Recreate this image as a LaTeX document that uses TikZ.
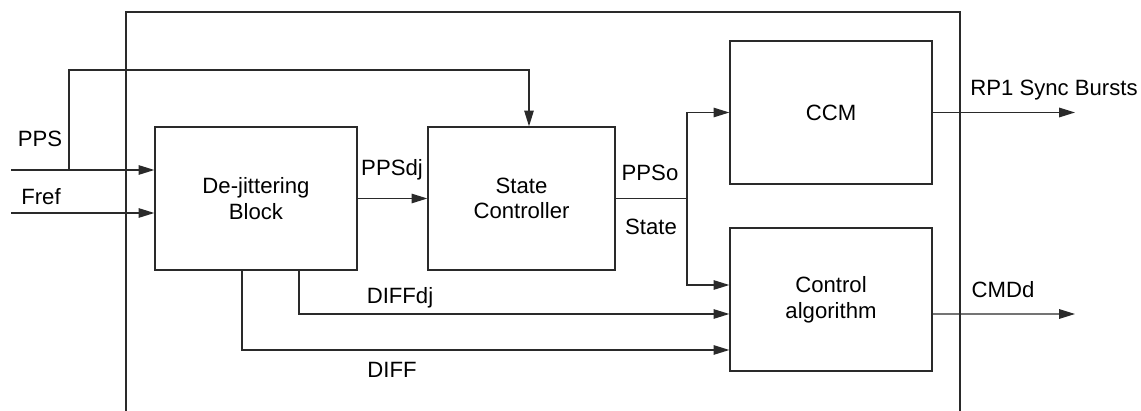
\documentclass[tikz,border=0pt]{standalone}
\usepackage{fontspec}
\setmainfont{Liberation Sans}
\usepackage{tikz}
\usepackage{xcolor}
\usetikzlibrary{arrows.meta,positioning,calc}
\definecolor{wire}{HTML}{2A2A2A}
\tikzset{
  blockbox/.style={
    draw=wire, line width=0.75pt, rectangle,
    minimum width=4.04cm, minimum height=2.86cm,
    align=center, inner sep=2pt
  },
  sigline/.style={draw=wire, line width=0.75pt},
  sigarrow/.style={sigline, -{Triangle[length=9pt,width=5.4pt]}},
  siglabel/.style={inner sep=0pt}
}

\begin{document}
\begin{tikzpicture}[x=0.02cm,y=-0.02cm,font=\fontsize{12.6}{14.6}\selectfont]
  \useasboundingbox (0,0) rectangle (1141,411);
  % outer frame (open at the bottom)
  \draw[sigline] (126,411) -- (126,12) -- (960,12) -- (960,411);

  % blocks
  \node[blockbox] (dj) at (256,198.5) {De-jittering\\Block};
  \node[blockbox,minimum width=3.74cm] (sc) at (521.5,198.5) {State\\Controller};
  \node[blockbox] (ccm) at (831,112.5) {CCM};
  \node[blockbox] (ca) at (831,299.5) {Control\\algorithm};

  % inputs
  \coordinate (ppsin) at (11,170);
  \coordinate (ppsbr) at (69,170);
  \coordinate (frefin) at (11,213);
  \draw[sigarrow] (ppsin) -- (ppsin -| dj.west);
  \draw[sigarrow] (ppsbr) -- ++(0,-100) -| ([xshift=0.15cm]sc.north);
  \draw[sigarrow] (frefin) -- (frefin -| dj.west);
  \node[siglabel] (ppslbl) at (40,139) {PPS};
  \node[siglabel] (freflbl) at (41,197) {Fref};

  % de-jittering to state controller
  \draw[sigarrow] (dj.east) -- (sc.west);
  \node[siglabel] (ppsdjlbl) at (392,170) {PPSdj};

  % state controller outputs
  \coordinate (split) at (687,198.5);
  \draw[sigline] (sc.east) -- (split);
  \draw[sigarrow] (split) |- (ccm.west);
  \draw[sigarrow] (split) |- ([yshift=0.29cm]ca.west);
  \node[siglabel] (ppsolbl) at (650,173) {PPSo};
  \node[siglabel] (statelbl) at (651,227) {State};

  % difference signals
  \draw[sigarrow] ([xshift=0.86cm]dj.south) |- ([yshift=-0.29cm]ca.west);
  \draw[sigarrow] ([xshift=-0.28cm]dj.south) |- ([yshift=-1.01cm]ca.west);
  \node[siglabel] (diffdjlbl) at (400,298) {DIFFdj};
  \node[siglabel] (difflbl) at (392,370) {DIFF};

  % outputs
  \coordinate (rp1out) at (1075,112.5);
  \coordinate (cmdout) at (1075,314);
  \draw[sigarrow] (ccm.east) -- (rp1out);
  \draw[sigarrow] ([yshift=-0.29cm]ca.east) -- (cmdout);
  \node[siglabel] (rp1lbl) at (1054,90) {RP1 Sync Bursts};
  \node[siglabel] (cmdlbl) at (1003,290) {CMDd};
\end{tikzpicture}
\end{document}
